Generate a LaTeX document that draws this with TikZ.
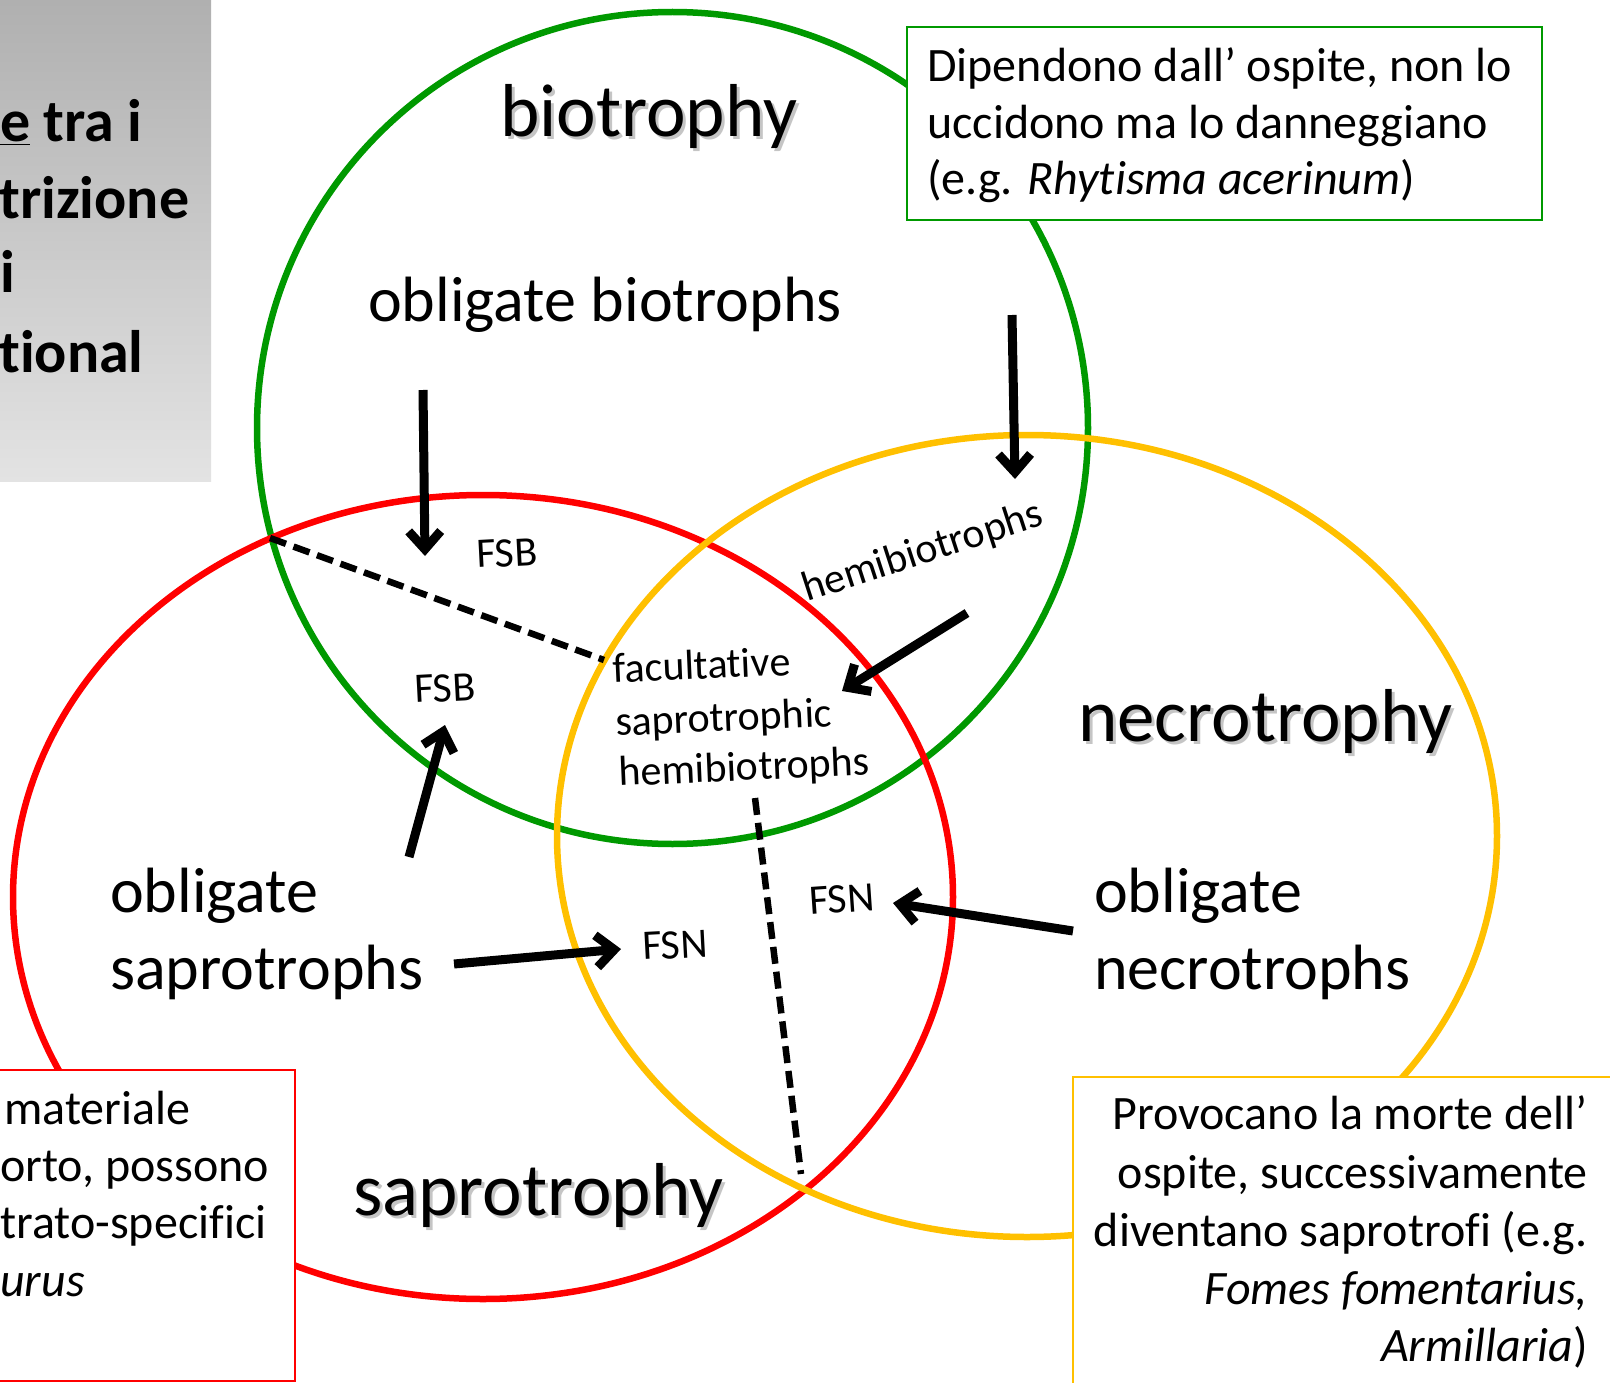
\documentclass[tikz,border=0pt]{standalone}
\usepackage{fontspec}
\setmainfont{Carlito}[RawFeature={-liga;-clig;-calt;-dlig}]
\usetikzlibrary{arrows.meta}
\definecolor{cgreen}{RGB}{0,153,0}
\definecolor{cred}{RGB}{255,0,0}
\definecolor{corange}{RGB}{255,192,0}
\tikzset{
  ring/.style={line width=6.5pt},
  infobox/.style={line width=2pt, fill=white},
  title/.style={font=\fontsize{75}{90}\selectfont, inner sep=0pt, anchor=base west},
  titleshadow/.style={title, text=black!45, opacity=0.5},
  big/.style={font=\fontsize{64}{77}\selectfont, inner sep=0pt, anchor=base west},
  small/.style={font=\fontsize{42}{50}\selectfont, inner sep=0pt, anchor=base west},
  boxtxt/.style={font=\fontsize{48}{58}\selectfont, inner sep=0pt, anchor=base west},
  boxtxtr/.style={font=\fontsize{48}{58}\selectfont, inner sep=0pt, anchor=base east},
  graytxt/.style={font=\fontsize{60}{72}\selectfont\bfseries, inner sep=0pt, anchor=base west},
  thickarrow/.style={line width=9pt, -{Straight Barb[length=18pt,width=32pt]}},
  divider/.style={line width=6.5pt, dash pattern=on 17pt off 8pt}
}
\begin{document}
\begin{tikzpicture}[x=1pt,y=-1pt]
\useasboundingbox (0,0) rectangle (1610,1383);
\clip (0,0) rectangle (1610,1383);
\fill[white] (0,0) rectangle (1610,1383);

% gray title box
\shade[top color=black!31, bottom color=black!11] (0,0) rectangle (211,481);
\begin{scope}
\clip (0,0) rectangle (211,481);
\node[graytxt] (g1) at (0,142) {\underline{e} tra i};
\node[graytxt] (g2) at (-1,219) {trizione};
\node[graytxt] (g3) at (0,293) {i};
\node[graytxt] (g4) at (-1,372) {t\kern0pt ional};
\end{scope}

% rings
\draw[ring, cgreen] (672.5,428) ellipse [x radius=415.5pt, y radius=416pt];
\draw[ring, cred] (483,897) ellipse [x radius=470pt, y radius=402pt];
\draw[ring, corange] (1027,836) ellipse [x radius=470pt, y radius=401pt];

% info boxes
\draw[infobox, draw=cgreen] (907,27) rectangle (1542,220);
\node[boxtxt] (gb1) at (927,82) {Dipendono dall’ ospite, non lo};
\node[boxtxt] (gb2) at (927,139) {uccidono ma lo danneggiano};
\node[boxtxt] (gb3) at (927,195) {(e.g. \textit{Rhyt\kern0pt isma acerinum})};

\draw[infobox, draw=cred] (-5,1070) rectangle (295,1381);
\node[boxtxt] (rb1) at (4,1124) {materiale};
\node[boxtxt] (rb2) at (0,1181) {orto, possono};
\node[boxtxt] (rb3) at (0,1238) {trato-specifici};
\node[boxtxt] (rb4) at (0,1296) {\textit{urus}};

\draw[infobox, draw=corange] (1073,1077) rectangle (1625,1400);
\node[boxtxtr] (ob1) at (1588,1129) {Provocano la morte dell’};
\node[boxtxtr] (ob2) at (1588,1188) {ospite, successivamente};
\node[boxtxtr] (ob3) at (1588,1246) {diventano saprotrofi (e.g.};
\node[boxtxtr] (ob4) at (1588,1304) {\textit{Fomes fomentarius,}};
\node[boxtxtr] (ob5) at (1588,1361) {\textit{Armillaria})};

% titles with shadow
\node[titleshadow] at (503,140) {biotrophy};
\node[title] (tbio) at (500,137) {biotrophy};
\node[titleshadow] at (1081,744) {necrotrophy};
\node[title] (tnec) at (1078,741) {necrotrophy};
\node[titleshadow] at (356,1218) {saprotrophy};
\node[title] (tsap) at (353,1215) {saprotrophy};

% main labels
\node[big] (obio) at (368,321) {obligate biotrophs};
\node[big] (osap1) at (110,912) {obligate};
\node[big] (osap2) at (110,989) {saprotrophs};
\node[big] (onec1) at (1094,912) {obligate};
\node[big] (onec2) at (1094,989) {necrotrophs};

% small labels
\node[small, rotate=3] (fsb1) at (477,568) {FSB};
\node[small, rotate=3] (fsb2) at (415,703) {FSB};
\node[small, rotate=3] (fsn1) at (643,960) {FSN};
\node[small, rotate=4] (fsn2) at (810,915) {FSN};
\node[small, rotate=18] (hemi) at (807,602) {hemibiotrophs};
\node[small, rotate=2.5] (fac1) at (613,683) {facultat\kern0pt ive};
\node[small, rotate=2.5] (fac2) at (616,736) {saprotrophic};
\node[small, rotate=2.5] (fac3) at (619,786) {hemibiotrophs};

% connector end points
\coordinate (a1s) at (423,390);  \coordinate (a1e) at (425,556);
\coordinate (a2s) at (1012,315); \coordinate (a2e) at (1015,479);
\coordinate (a3s) at (967,613);  \coordinate (a3e) at (842,691);
\coordinate (a4s) at (409,857);  \coordinate (a4e) at (445,725);
\coordinate (a5s) at (454,964);  \coordinate (a5e) at (621,949);
\coordinate (a6s) at (1073,931); \coordinate (a6e) at (893,903);
\coordinate (d1s) at (270,538);  \coordinate (d1e) at (604,660);
\coordinate (d2s) at (755,798);  \coordinate (d2e) at (801,1174);

% arrows
\draw[thickarrow] (a1s) -- (a1e);
\draw[thickarrow] (a2s) -- (a2e);
\draw[thickarrow] (a3s) -- (a3e);
\draw[thickarrow] (a4s) -- (a4e);
\draw[thickarrow] (a5s) -- (a5e);
\draw[thickarrow] (a6s) -- (a6e);

% dashed dividers
\draw[divider] (d1s) -- (d1e);
\draw[divider] (d2s) -- (d2e);
\end{tikzpicture}
\end{document}
